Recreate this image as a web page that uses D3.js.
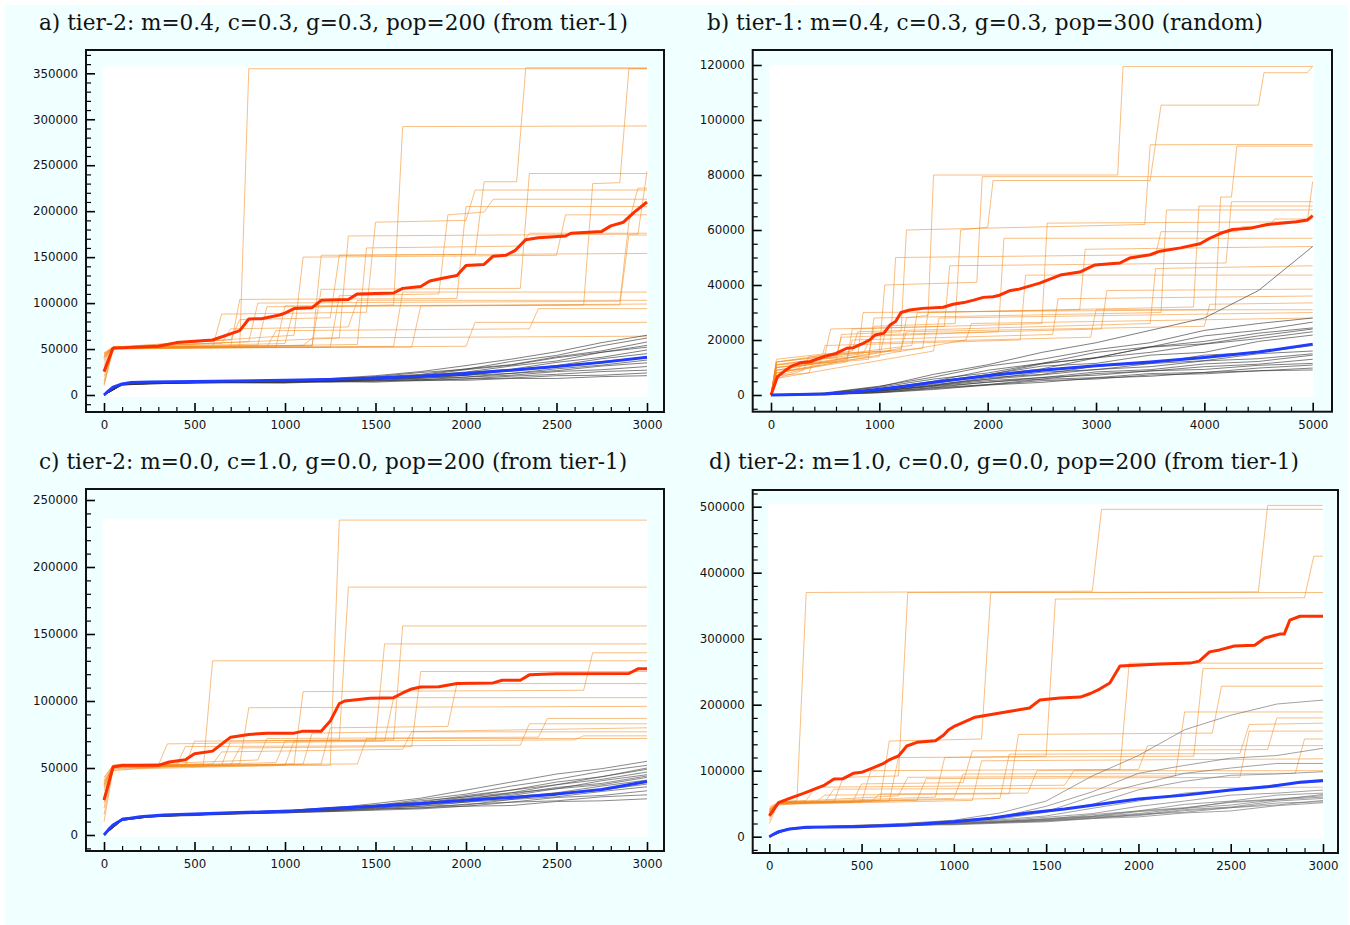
<!DOCTYPE html>
<html>
<head>
<meta charset="utf-8">
<script src="https://cdn.jsdelivr.net/npm/d3@7"></script>
<style>
  body { margin: 0; background: #fff; }
  svg { display: block; }
  .title { font-family: "DejaVu Serif", serif; font-size: 21.6px; fill: #111; }
  .tick text { font-family: "DejaVu Sans", sans-serif; font-size: 11.8px; fill: #111; }
</style>
</head>
<body>
<svg id="chart" width="1350" height="925"></svg>
<script>
// all fitness values below are in thousands

var titles = [
  'a) tier-2: m=0.4, c=0.3, g=0.3, pop=200 (from tier-1)',
  'b) tier-1: m=0.4, c=0.3, g=0.3, pop=300 (random)',
  'c) tier-2: m=0.0, c=1.0, g=0.0, pop=200 (from tier-1)',
  'd) tier-2: m=1.0, c=0.0, g=0.0, pop=200 (from tier-1)'
];

var xTicksA = [0, 500, 1000, 1500, 2000, 2500, 3000];
var yTicksA = [0, 50000, 100000, 150000, 200000, 250000, 300000, 350000];
var xTicksB = [0, 1000, 2000, 3000, 4000, 5000];
var yTicksB = [0, 20000, 40000, 60000, 80000, 100000, 120000];
var xTicksC = [0, 500, 1000, 1500, 2000, 2500, 3000];
var yTicksC = [0, 50000, 100000, 150000, 200000, 250000];
var xTicksD = [0, 500, 1000, 1500, 2000, 2500, 3000];
var yTicksD = [0, 100000, 200000, 300000, 400000, 500000];

// ---- panel a ----
var orangeA = [
  [[0,45],[50,52],[750,53],[800,355],[3000,355]],
  [[0,40],[50,52],[700,60],[750,82],[1250,84],[1300,152],[2050,153],[2100,232],[2280,232],[2330,356],[3000,356]],
  [[0,20],[50,51],[950,52],[1000,97],[2650,98],[2700,230],[2850,231],[2900,355],[3000,355]],
  [[0,42],[50,52],[1000,56],[1050,95],[1600,98],[1650,292],[3000,292.7]],
  [[0,36],[50,51],[1150,54],[1200,115],[2300,116],[2350,241],[3000,241]],
  [[0,44],[50,52],[1300,62],[1350,173],[2950,175],[3000,243]],
  [[0,10],[50,50],[600,52],[650,88],[1450,90],[1500,188],[2000,190],[2050,223],[3000,223]],
  [[0,40],[50,52],[800,58],[850,100],[2850,102],[2900,188],[2950,225],[3000,225]],
  [[0,30],[50,51],[1250,52],[1300,108],[1850,110],[1900,196],[2100,199],[2150,213],[3000,213]],
  [[0,43],[50,52],[700,53],[750,104],[1950,105],[2000,205],[3000,205]],
  [[0,15],[50,52],[1050,65],[1100,150],[2500,152],[2550,196],[3000,196]],
  [[0,41],[50,51],[1400,55],[1450,160],[2300,162],[2350,176],[3000,176]],
  [[0,25],[50,52],[850,54],[900,96],[2850,98],[2900,174],[3000,174]],
  [[0,44],[50,52],[1150,53],[1200,152],[3000,154]],
  [[0,33],[50,50],[1600,53],[1650,112],[3000,112]],
  [[0,46],[50,52],[650,56],[700,72],[1350,74],[1400,103],[3000,103]],
  [[0,38],[50,51],[1700,52],[1750,97],[3000,99]],
  [[0,42],[50,52],[900,52],[950,70],[2350,72],[2400,94],[3000,94]],
  [[0,12],[50,51],[2000,53],[2050,79],[3000,79]],
  [[0,40],[50,52],[1100,54],[1150,62],[3000,64]]
];
var redA = [[0,25.4],[50,51],[300,53],[400,57],[600,59.8],[750,70],[800,82.7],[870,83],[970,87],[1000,89],
  [1050,94],[1150,95],[1200,103],[1350,104],[1400,110],[1600,111],[1650,116],[1750,118],[1800,124],[1870,127],
  [1950,130],[2000,141],[2100,142],[2150,151],[2220,152],[2270,157],[2330,169],[2400,171],[2550,173],[2580,176],
  [2750,178],[2800,184],[2870,188],[2930,199],[3000,210]];
var grayGensA = [0, 100, 250, 500, 1000, 1250, 1500, 1750, 2000, 2250, 2500, 2750, 3000];
var grayA = [
  [0,12,13,14,16,18,21,25.5,32,39,47,57,65],
  [0,12.5,13,14.5,15,17.5,20,24.5,28,36.5,43,53.5,62],
  [0,11.5,13.5,14,15.5,16.5,19.5,22.5,28.5,33,41.5,48,57.7],
  [0,12,12.5,13.5,15,16.5,17.5,21.5,25,31.5,37,46.5,54],
  [0,11,12.5,14,14.5,16,18.5,19.5,24.5,28,35.5,41,49],
  [0,12,13.5,13.5,15.5,15.5,17.5,19.5,21.5,27.5,32,39.5,45],
  [0,11,12.5,14,14,16,16.5,19.5,21.5,26.5,30.5,36.5,41],
  [0,12.5,13,13.5,15,15,17.5,18,21.5,23.5,28.5,32.5,38],
  [0,11,12,13.5,13.5,15.5,15.5,18.5,19.5,23.5,26.5,31.5,35],
  [0,12,13,13,15,14.5,16.5,16.5,19.5,21.5,25.5,27.5,31],
  [0,11.5,12.5,13.5,13.5,15,15,17,17.5,20.5,22.5,25.5,27],
  [0,12,13,13,14.5,14,15.5,15.5,17.5,18.5,21,21.5,24],
  [0,11,12,13.5,13,14.5,14,16,16,18,18,20,21],
  [0,12,13.5,14,15.5,16,19,21.5,27.5,32.5,40.5,46.5,52]
];
var blueA = [[0,0],[25,4.5],[50,8.5],[100,12],[150,13.5],[250,14.2],[500,14.8],[1000,16],[1250,17],[1500,18.5],
  [1750,20.5],[2000,23.5],[2250,27],[2500,31],[2750,35.5],[3000,41]];

// ---- panel b ----
var orangeB = [
  [[0,0],[50,9],[250,9.5],[300,12],[450,12.5],[500,15],[1200,16],[1250,28],[1450,29],[1500,80],[3200,80],[3250,119.5],[5000,119.5]],
  [[0,0],[50,7],[350,8],[400,13],[900,14],[950,25],[1700,26],[1750,60],[2000,61],[2050,78],[3500,78],[3600,105.4],[4500,105.4],[4550,117.2],[4950,117.2],[5000,119.5]],
  [[0,0],[50,11],[600,12],[650,22],[1200,23],[1250,60],[3450,62],[3500,91],[5000,91.1]],
  [[0,0],[50,10],[800,14],[850,30],[4100,31],[4150,72],[4250,72],[4300,90.5],[5000,90.5]],
  [[0,0],[50,12],[1000,16],[1050,40],[1900,41],[1950,79.4],[5000,79.4]],
  [[0,0],[50,8],[700,12],[750,24],[2500,26],[2550,62.5],[4950,63],[5000,77.6]],
  [[0,0],[50,13],[500,15],[550,24],[1600,25],[1650,47],[4200,48],[4250,70.3],[5000,70.3]],
  [[0,0],[50,6],[300,9],[350,14],[1400,17],[1450,30],[3900,32],[3950,68.7],[5000,68.7]],
  [[0,0],[50,10],[900,13],[950,28],[3600,30],[3650,67.3],[5000,67.3]],
  [[0,0],[50,9],[1100,16],[1150,50],[3550,51],[3600,59.4],[4300,59.4],[4350,61.2],[4600,61.5],[4650,64],[5000,64]],
  [[0,0],[50,11],[600,14],[650,21],[2100,23],[2150,57],[5000,57]],
  [[0,0],[50,12],[1300,18],[1350,30],[2850,31],[2900,53],[5000,54]],
  [[0,0],[50,8],[450,11],[500,18],[2300,20],[2350,43.6],[5000,43.6]],
  [[0,0],[50,10],[1000,14],[1050,22],[3050,24],[3100,38],[5000,38.5]],
  [[0,0],[50,7],[700,13],[750,20],[2600,22],[2650,35],[5000,36]],
  [[0,0],[50,9],[1200,17],[1250,23],[4000,25],[4050,33],[5000,33.5]],
  [[0,0],[50,11],[850,15],[900,19],[2950,21],[3000,31],[5000,31]],
  [[0,0],[50,6],[1500,16],[1550,28],[5000,30]],
  [[0,0],[50,12],[750,16],[800,23],[3500,26],[3550,46],[5000,47]],
  [[0,0],[50,8],[1800,20],[1850,26],[5000,28]]
];
var redB = [[0,0],[60,6.7],[145,9.3],[190,10.5],[270,11.7],[360,12.1],[420,13],[510,14.2],[600,15.1],[700,17],
  [760,17.2],[850,18.8],[910,20],[960,21.8],[1040,22.4],[1100,25.5],[1150,26.7],[1200,30],[1280,30.9],[1400,31.5],
  [1590,31.9],[1680,33],[1780,33.6],[1870,34.5],[1960,35.5],[2050,35.7],[2110,36.3],[2200,37.9],[2290,38.5],
  [2480,40.7],[2670,43.6],[2850,44.7],[2990,47.3],[3220,48],[3310,49.8],[3500,51],[3590,52.3],[3780,53.5],
  [3960,55],[4050,57],[4150,58.8],[4260,60.2],[4420,60.6],[4580,62],[4850,63],[4950,63.6],[5000,65.2]];
var grayGensB = [0, 500, 1000, 1500, 2000, 2500, 3000, 3500, 4000, 4500, 5000];
var grayB = [
  [0,0.6,3,7.5,11,15.5,19,23.5,28,38,54],
  [0,0.8,3.2,6.5,10.5,13,16.5,19,23.5,26,28],
  [0,0.4,2.2,5,9,11.5,15.5,17.5,21.5,23.5,26.5],
  [0,0.6,2.8,5.8,8,11.5,13.5,17.5,19.5,22.5,24.4],
  [0,0.3,1.8,4.2,7.2,9.5,13.5,15.5,18.5,20.5,23],
  [0,0.5,2.2,4.8,7.4,10.5,11.5,14.5,15.5,19.5,21.8],
  [0,0.2,1.5,3.5,6.3,7.5,10.5,11.5,14.5,15.5,18],
  [0,0.4,1.9,3.8,5.8,8.3,9.2,11.4,12.5,15,16],
  [0,0.3,1.4,3.3,5.2,6.3,8.4,9.2,11.3,12.2,14.5],
  [0,0.2,1.2,2.7,4.7,5.8,7.8,8.7,10.3,11.2,13],
  [0,0.3,1.5,3.1,4.6,6.4,7.2,8.8,9.3,10.8,11.5],
  [0,0.2,1,2.6,3.8,5.7,6.3,7.8,8.2,9.8,10.9],
  [0,0.1,0.8,2,3.6,4.6,6.2,6.8,8.2,8.8,9.8],
  [0,0.2,0.9,2.3,3.7,5.2,5.8,7.3,7.7,8.8,9.1],
  [0,0.4,2,4.6,7.3,11.3,13.6,17.4,18.6,21.5,24],
  [0,0.3,1.6,3.4,5.7,7.3,9.3,10.3,12.4,13.2,15]
];
var blueB = [[0,0],[250,0.15],[500,0.4],[750,1],[1000,2.1],[1250,3.3],[1500,4.6],[1750,5.8],[2000,7],[2250,8],
  [2500,9],[2750,9.8],[3000,10.6],[3500,12],[4000,13.6],[4500,15.6],[5000,18.5]];

// ---- panel c ----
var orangeC = [
  [[0,40],[50,51],[1250,52],[1300,235],[3000,235]],
  [[0,15],[50,50],[650,52],[700,70],[1300,71],[1350,185],[3000,185]],
  [[0,38],[50,51],[450,52],[500,70],[1600,71],[1650,156],[3000,156]],
  [[0,42],[50,52],[550,53],[600,130],[3000,130]],
  [[0,10],[50,49],[1000,52],[1050,70],[1500,71],[1550,142.6],[3000,142.6]],
  [[0,36],[50,51],[1050,53],[1100,107],[2650,108],[2700,136],[3000,136]],
  [[0,28],[50,51],[700,52],[750,65],[1700,66],[1750,122],[3000,122]],
  [[0,33],[50,50],[1200,53],[1250,80],[1900,81],[1950,113],[3000,113]],
  [[0,37],[50,51],[300,52],[350,68],[1550,70],[1600,102.5],[3000,102.5]],
  [[0,20],[50,52],[850,56],[900,72],[2400,73],[2450,87],[3000,87]],
  [[0,28],[50,48],[400,52],[450,66],[2300,67],[2350,83],[3000,83]],
  [[0,35],[50,50],[1100,53],[1150,76],[3000,80]],
  [[0,40],[50,51],[600,53],[650,62],[1650,64],[1700,77],[3000,77]],
  [[0,24],[50,51],[950,54],[1000,70],[2600,71],[2650,74],[3000,74]],
  [[0,38],[50,52],[1400,53],[1450,72],[3000,72]],
  [[0,43],[50,52],[750,53],[800,95],[3000,96]]
];
var redC = [[0,26],[50,50.7],[100,52],[300,52],[360,54.5],[450,56.2],[500,60.7],[600,62.6],[700,73],[800,75],
  [900,76],[1050,76],[1100,77.5],[1200,77.5],[1250,85],[1300,98],[1330,100],[1470,102],[1600,102.5],[1650,106],
  [1700,109],[1750,110.5],[1850,110.7],[1950,113],[2150,113.5],[2200,115.5],[2300,115.5],[2350,119.5],
  [2500,120.3],[2900,120.5],[2950,124],[3000,124]];
var grayGensC = [0, 100, 250, 500, 1000, 1250, 1500, 1750, 2000, 2250, 2500, 2750, 3000];
var grayC = [
  [0,12,14,15.5,18.5,20,23.5,27.5,33.5,39.5,45.5,49.5,55],
  [0,12.5,14,16,18,20.5,22,26.5,30.5,36.5,41.5,47.5,52],
  [0,11.5,13.5,15,17.5,19.5,22.5,24.5,29.5,33.5,39.5,43.5,49],
  [0,12,14.5,15,18,19,21.5,23.5,28.5,31.5,37.5,41.5,47],
  [0,11,13.5,15.5,17,19.5,21,23.5,26.5,31.5,34.5,40.5,45],
  [0,12,14,15,17.5,18.5,21.5,22.5,26.5,29.5,34.5,37.5,43],
  [0,11,13.5,15.5,17,18.5,20,22.5,24.5,28.5,31.5,36.5,41],
  [0,12.5,14,15,17.5,18,20.5,21.5,24.5,26.5,31.5,33.5,38],
  [0,11,13.5,15,17,18.5,19.5,21.5,22.5,26.5,28.5,32.5,36],
  [0,12,14,15.5,16.5,18,19.5,20,23,24.5,28,29.5,33],
  [0,11.5,13.5,14.5,17,17.5,19,20.5,21.5,24.5,25.5,28.5,30],
  [0,12,14,15,16.5,17.5,18.5,19.5,21.5,22,25,25.5,27],
  [0,11,13.5,15,17.5,19,22,23.5,27.5,30.5,35.5,38.5,44],
  [0,12,14,15.5,17.5,20,21.5,25.5,28.5,33.5,37.5,43.5,50]
];
var blueC = [[0,0],[25,4],[50,7.4],[100,11.5],[200,13.6],[330,14.9],[500,15.6],[700,16.6],[900,17.3],[1050,18],
  [1250,19.8],[1500,21.5],[1750,23.5],[2000,26],[2250,28],[2500,30.5],[2750,34],[3000,40]];

// ---- panel d ----
var orangeD = [
  [[0,45],[50,52],[150,55],[200,370],[1750,372],[1800,496],[3000,496]],
  [[0,40],[50,51],[600,55],[650,145],[1150,148],[1200,370],[2650,371],[2700,502],[3000,502]],
  [[0,35],[50,50],[350,52],[400,90],[700,92],[750,370],[3000,370]],
  [[0,42],[50,52],[900,60],[950,120],[1500,122],[1550,360],[2900,362],[2950,425],[3000,425]],
  [[0,38],[50,51],[500,52],[550,100],[1900,102],[1950,263],[3000,263]],
  [[0,25],[50,52],[650,54],[700,120],[2300,122],[2350,255],[3000,255]],
  [[0,30],[50,48],[250,52],[300,63],[1300,65],[1350,155],[2400,157],[2450,228],[3000,228]],
  [[0,40],[50,52],[700,62],[750,90],[2200,92],[2250,189],[3000,189]],
  [[0,36],[50,50],[450,52],[500,80],[1050,82],[1100,130],[2700,132],[2750,180],[3000,180]],
  [[0,20],[50,52],[1000,58],[1050,95],[2850,96],[2900,148],[3000,148]],
  [[0,39],[50,51],[550,53],[600,65],[1400,66],[1450,100],[2000,102],[2050,138],[3000,138]],
  [[0,37],[50,51],[300,52],[350,72],[3000,75]],
  [[0,41],[50,52],[800,55],[850,88],[2550,90],[2600,160],[3000,160]],
  [[0,34],[50,49],[1100,55],[1150,115],[3000,118]],
  [[0,42],[50,52],[200,55],[250,75],[1600,78],[1650,100],[3000,100]],
  [[0,38],[50,51],[1250,58],[1300,125],[2550,126],[2600,170],[3000,172]]
];
var redD = [[0,31.4],[50,51.5],[110,58.2],[185,65.7],[255,73.3],[300,78.3],[350,87.4],[400,87.9],[455,96],[500,97.5],
  [555,103.6],[620,111.2],[655,117.3],[700,122.3],[745,137.4],[800,143],[900,145.4],[945,154],[970,161.6],
  [1005,167.7],[1115,181],[1250,187.5],[1305,190],[1410,195],[1465,207],[1575,210],[1685,211.5],[1740,217],
  [1790,223.7],[1845,233],[1900,258.6],[2010,260],[2120,261.6],[2280,263],[2330,266],[2385,280],[2440,283],
  [2520,289],[2630,290],[2685,301],[2765,307],[2790,307],[2820,328],[2875,334],[3000,334]];
var grayGensD = [0, 100, 250, 500, 750, 1000, 1250, 1500, 1750, 2000, 2250, 2500, 2750, 3000];
var grayD = [
  [0,12,15,17,20.5,25,36,54,92,123,162,184,201,207],
  [0,12.5,15,17.5,20,24.5,30,46,68,96,108,119,123,134],
  [0,11,14.5,16,19.5,23,28.5,38,61,79,96,104,111,111],
  [0,12,15,17.5,19,22.5,27,37,49,71,84,93,95,98.5],
  [0,11.5,14,16,18.5,21,25.5,31.5,43,54,66,71,79,83],
  [0,12,15,16.5,18,21.5,24,29.5,35,46,54,63,66,70.7],
  [0,11,14.5,16,18.5,20,23.5,26.5,33.5,39,49,54,63,66],
  [0,12,15,16,18,20.5,22,26.5,30.5,38,43,53,57,62],
  [0,11,14,15.5,17,19.5,22,24.5,29.5,33,41,45,54,58],
  [0,12,14.5,16,17.5,19,21.5,24.5,27.5,34,37,44,48,55],
  [0,11.5,14,15,17.5,18,20.5,22.5,27.5,30,36,39,47,51.5],
  [0,12,15,16.5,18,20.5,22.5,27.5,31.5,39,44,52,56,60],
  [0,11,14,15,17.5,19,21.5,23.5,28.5,32,39.5,44,51,53],
  [0,12,14.5,16.5,17,19.5,22.5,25.5,30.5,35,43,48,56,64]
];
var blueD = [[0,0],[25,4],[50,7.6],[110,11.7],[200,14.2],[470,15.2],[750,17.7],[1000,22.7],[1200,28],[1400,36],
  [1600,42],[1800,49.5],[2000,57],[2250,63],[2500,70.7],[2700,75.7],[2875,82.4],[3000,85]];

var panels = [
  { title: titles[0], xTicks: xTicksA, yTicks: yTicksA, orange: orangeA, red: redA, grayGens: grayGensA, gray: grayA, blue: blueA },
  { title: titles[1], xTicks: xTicksB, yTicks: yTicksB, orange: orangeB, red: redB, grayGens: grayGensB, gray: grayB, blue: blueB },
  { title: titles[2], xTicks: xTicksC, yTicks: yTicksC, orange: orangeC, red: redC, grayGens: grayGensC, gray: grayC, blue: blueC },
  { title: titles[3], xTicks: xTicksD, yTicks: yTicksD, orange: orangeD, red: redD, grayGens: grayGensD, gray: grayD, blue: blueD }
];

// pixel layout and line shade of each panel
var layout = [
  { frame: [86, 664, 50, 412], xPx: [104, 647], yPx: [395, 73.3], xMinor: 100, yMinor: 10000, titleX: 39, titleY: 30, grayCol: '#333' },
  { frame: [752.7, 1332, 50, 411.7], xPx: [771, 1312.7], yPx: [395, 65], xMinor: 200, yMinor: 5000, titleX: 707, titleY: 30, grayCol: '#333' },
  { frame: [86, 664, 489, 851], xPx: [104, 647], yPx: [835, 500], xMinor: 100, yMinor: 10000, titleX: 39, titleY: 469, grayCol: '#444' },
  { frame: [752.7, 1338, 490, 853], xPx: [769.3, 1323], yPx: [836.7, 506.7], xMinor: 100, yMinor: 20000, titleX: 709, titleY: 469, grayCol: '#6a6a6a' }
];

var svg = d3.select('#chart');

svg.append('rect')
  .attr('x', 5).attr('y', 5)
  .attr('width', 1343).attr('height', 920)
  .attr('fill', '#f0ffff');

function minorTicks(scale, lo, hi, step, major) {
  var a = scale.invert(lo), b = scale.invert(hi);
  if (a > b) { var t = a; a = b; b = t; }
  var vals = d3.range(Math.ceil(a / step) * step, b, step).map(function(v) { return Math.round(v); });
  return vals.filter(function(v) {
    var px = scale(v);
    return major.indexOf(v) < 0 && px > Math.min(lo, hi) + 1.5 && px < Math.max(lo, hi) - 1.5;
  });
}

function drawPanel(p, L) {
  var f = L.frame;
  var x = d3.scaleLinear().domain([0, d3.max(p.xTicks)]).range(L.xPx);
  var y = d3.scaleLinear().domain([0, d3.max(p.yTicks)]).range(L.yPx);
  var g = svg.append('g');

  var grayPts = p.gray.map(function(vals) {
    return vals.map(function(v, j) { return [p.grayGens[j], v]; });
  });

  // data box
  var allVals = [];
  p.orange.concat(grayPts, [p.red, p.blue]).forEach(function(s) {
    s.forEach(function(d) { allVals.push(d[1] * 1000); });
  });
  var yMax = d3.max(allVals);
  var xMax = d3.max(p.xTicks);
  g.append('rect')
    .attr('x', x(0) - 1.5)
    .attr('y', y(yMax) - 1.5)
    .attr('width', x(xMax) - x(0) + 2.5)
    .attr('height', y(0) - y(yMax) + 3.5)
    .attr('fill', '#fff');

  var line = d3.line()
    .x(function(d) { return x(d[0]); })
    .y(function(d) { return y(d[1] * 1000); });

  g.selectAll('.orange').data(p.orange)
    .enter().append('path')
    .attr('class', 'orange')
    .attr('d', line)
    .attr('fill', 'none')
    .attr('stroke', '#f28a1e')
    .attr('stroke-opacity', 0.55)
    .attr('stroke-width', 1);

  g.selectAll('.gray').data(grayPts)
    .enter().append('path')
    .attr('class', 'gray')
    .attr('d', line)
    .attr('fill', 'none')
    .attr('stroke', L.grayCol)
    .attr('stroke-opacity', 0.7)
    .attr('stroke-width', 0.9);

  g.append('path').datum(p.red)
    .attr('d', line)
    .attr('fill', 'none')
    .attr('stroke', '#ff3000')
    .attr('stroke-width', 3)
    .attr('stroke-linejoin', 'round');

  g.append('path').datum(p.blue)
    .attr('d', line)
    .attr('fill', 'none')
    .attr('stroke', '#1f3cff')
    .attr('stroke-width', 3)
    .attr('stroke-linejoin', 'round');

  // axes, ticks pointing inward
  var xMin = minorTicks(x, f[0], f[1], L.xMinor, p.xTicks);
  var yMin = minorTicks(y, f[3], f[2], L.yMinor, p.yTicks);

  g.append('g')
    .attr('transform', 'translate(0,' + f[3] + ')')
    .call(d3.axisBottom(x).tickValues(xMin).tickSize(-5).tickFormat(''))
    .call(function(s) { s.select('.domain').remove(); s.selectAll('line').attr('stroke-width', 1.2); });
  g.append('g')
    .attr('transform', 'translate(0,' + f[3] + ')')
    .call(d3.axisBottom(x).tickValues(p.xTicks).tickSize(-9).tickPadding(9).tickFormat(d3.format('d')))
    .call(function(s) { s.select('.domain').remove(); s.selectAll('line').attr('stroke-width', 1.6); });

  g.append('g')
    .attr('transform', 'translate(' + f[0] + ',0)')
    .call(d3.axisLeft(y).tickValues(yMin).tickSize(-5).tickFormat(''))
    .call(function(s) { s.select('.domain').remove(); s.selectAll('line').attr('stroke-width', 1.2); });
  g.append('g')
    .attr('transform', 'translate(' + f[0] + ',0)')
    .call(d3.axisLeft(y).tickValues(p.yTicks).tickSize(-9).tickPadding(8).tickFormat(d3.format('d')))
    .call(function(s) { s.select('.domain').remove(); s.selectAll('line').attr('stroke-width', 1.6); });

  // frame
  g.append('rect')
    .attr('x', f[0]).attr('y', f[2])
    .attr('width', f[1] - f[0]).attr('height', f[3] - f[2])
    .attr('fill', 'none')
    .attr('stroke', '#111')
    .attr('stroke-width', 2);

  g.append('text')
    .attr('class', 'title')
    .attr('x', L.titleX)
    .attr('y', L.titleY)
    .text(p.title);
}

panels.forEach(function(p, i) { drawPanel(p, layout[i]); });
</script>
</body>
</html>
